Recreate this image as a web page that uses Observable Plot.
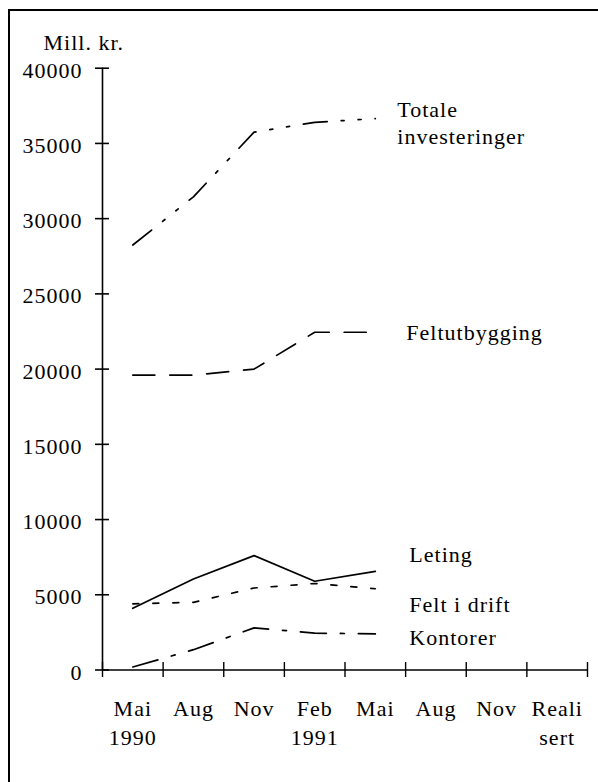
<!DOCTYPE html>
<html><head><meta charset="utf-8">
<script src="https://cdn.jsdelivr.net/npm/d3@7"></script>
<script src="https://cdn.jsdelivr.net/npm/@observablehq/plot@0.6"></script>
<style>
html,body{margin:0;padding:0;background:#fff;}
#wrap{position:relative;width:598px;height:782px;overflow:hidden;background:#fff;}
#chart{position:absolute;left:0;top:0;}
#frame{position:absolute;left:8px;top:9px;width:700px;height:900px;border-left:2px solid #000;border-top:2px solid #000;pointer-events:none;}
</style></head><body>
<div id="wrap"><div id="chart"></div><div id="frame"></div></div>
<script>
// Category labels along the x axis (8 periods)
const periods = ["Mai\n1990", "Aug", "Nov", "Feb\n1991", "Mai", "Aug", "Nov", "Reali\nsert"];
// Series values (Mill. kr.) for the first five periods
const totale        = [28250, 31450, 35750, 36400, 36650];
const feltutbygging = [19600, 19600, 20000, 22450, 22450];
const leting        = [4100, 6050, 7600, 5900, 6550];
const feltIDrift    = [4400, 4500, 5450, 5750, 5400];
const kontorer      = [200, 1350, 2800, 2450, 2400];
// Series labels
const seriesLabels = ["Totale\ninvesteringer", "Feltutbygging", "Leting", "Felt i drift", "Kontorer"];
// Y tick values
const yTicks = [0, 5000, 10000, 15000, 20000, 25000, 30000, 35000, 40000];
const yLabel = "Mill. kr.";

const seriesValues = [totale, feltutbygging, leting, feltIDrift, kontorer];
const rows = (vals) => vals.map((v, i) => ({i, value: v}));
const xc = (d) => d.i + 0.5;

const styles = [
  {strokeDasharray: "24,14,3,14,3,14"},
  {strokeDasharray: "22,15"},
  {},
  {strokeDasharray: "6,14"},
  {strokeDasharray: "26,14,4,14"}
];
const labelOffsets = [
  {dx: 22, dy: 25},
  {dx: 31, dy: 8},
  {dx: 34, dy: -9},
  {dx: 34, dy: 23},
  {dx: 34, dy: 11}
];

const FS = 22;
const marks = [];
// axis lines
marks.push(Plot.ruleX([0], {y1: 0, y2: 40000, strokeWidth: 1.6}));
marks.push(Plot.ruleY([0], {x1: 0, x2: periods.length, strokeWidth: 1.6}));
// crossing tick marks
marks.push(Plot.ruleY(yTicks, {x1: -0.115, x2: 0.115, strokeWidth: 1.6}));
marks.push(Plot.ruleX(d3.range(periods.length + 1), {y1: -500, y2: 500, strokeWidth: 1.4}));
// y axis labels
marks.push(Plot.axisY({ticks: yTicks, tickSize: 0, tickPadding: 20, tickFormat: "d", fontSize: FS, dy: 2.5, label: null}));
// x category labels
marks.push(Plot.text(periods, {x: (d, i) => i + 0.5, y: 0, text: d => d, lineAnchor: "top", lineHeight: 1.3, dy: 26, fontSize: FS}));
// unit label
marks.push(Plot.text([yLabel], {frameAnchor: "top-left", text: d => d, dx: -59, dy: -18, textAnchor: "start", lineAnchor: "bottom", fontSize: FS}));
// series lines and labels
seriesValues.forEach((vals, k) => {
  const data = rows(vals);
  marks.push(Plot.line(data, {x: xc, y: "value", stroke: "black", strokeWidth: 1.7, ...styles[k]}));
  marks.push(Plot.text([data[data.length - 1]], {
    x: xc, y: "value", text: () => seriesLabels[k],
    textAnchor: "start", lineAnchor: "bottom", lineHeight: 1.23,
    fontSize: FS, ...labelOffsets[k]
  }));
});

const chart = Plot.plot({
  width: 598,
  height: 782,
  marginLeft: 102,
  marginRight: 11,
  marginTop: 67.7,
  marginBottom: 112.5,
  style: {fontFamily: "'Liberation Serif', 'Times New Roman', serif", letterSpacing: "1px", background: "transparent", color: "black"},
  x: {domain: [0, periods.length], axis: null},
  y: {domain: [0, 40000], axis: null},
  marks
});
document.getElementById("chart").appendChild(chart);
</script>
</body></html>
